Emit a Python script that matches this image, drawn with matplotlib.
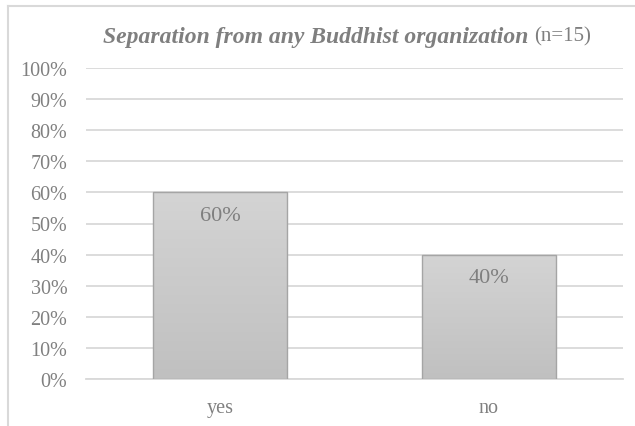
import numpy as np
import matplotlib.pyplot as plt
from matplotlib.lines import Line2D
from matplotlib.colors import LinearSegmentedColormap

categories = ["yes", "no"]
shares = [0.60, 0.40]
labels = ["60%", "40%"]
yticks = [0.0, 0.1, 0.2, 0.3, 0.4, 0.5, 0.6, 0.7, 0.8, 0.9, 1.0]

plt.rcParams['font.family'] = ['Liberation Serif', 'DejaVu Serif']
grey = '#7f7f7f'

fig = plt.figure(figsize=(6.35, 4.27), dpi=100)
ax = fig.add_axes([86/635, 1 - 380/427, 537/635, 311/427])

x = np.arange(len(categories))
bars = ax.bar(x, shares, width=0.5, color='#c8c8c8', edgecolor='#a5a5a5', linewidth=1, zorder=3)

# vertical gradient inside each bar
grad = np.linspace(0, 1, 256).reshape(-1, 1)
cmap = LinearSegmentedColormap.from_list('g', ['#c0c0c0', '#d4d4d4'])
for b in bars:
    bx, by = b.get_x(), b.get_y()
    w, h = b.get_width(), b.get_height()
    im = ax.imshow(grad, extent=[bx, bx + w, by, by + h], origin='lower',
                   cmap=cmap, aspect='auto', zorder=3.5)
    im.set_clip_path(b)
    b.set_facecolor('none')
    b.set_zorder(4)

for xi, v, lab in zip(x, shares, labels):
    ax.text(xi, v - 0.075, lab, ha='center', va='center', fontsize=16, color=grey, zorder=5)

ax.set_xlim(-0.5, 1.5)
ax.set_ylim(0, 1)
ax.set_yticks(yticks)
ax.set_yticklabels([f"{int(round(t*100))}%" for t in yticks])
ax.set_xticks(x)
ax.set_xticklabels(categories)
ax.tick_params(axis='both', length=0, labelsize=14.5, labelcolor='#808080')
ax.tick_params(axis='y', pad=13.5)
ax.tick_params(axis='x', pad=14)
ax.yaxis.grid(True, color='#d9d9d9', linewidth=1.3, zorder=0)
ax.set_axisbelow(True)
for s in ['top', 'right', 'left']:
    ax.spines[s].set_visible(False)
ax.spines['bottom'].set_color('#d9d9d9')
ax.spines['bottom'].set_linewidth(1.3)

# title: bold italic part plus plain part
t1 = fig.text(103/635, 1 - 37/427, "Separation from any Buddhist organization",
              fontsize=17, fontweight='bold', fontstyle='italic', color=grey, va='center', ha='left')
fig.canvas.draw()
bb = t1.get_window_extent()
fig.text((bb.x1 + 6) / 635, 1 - 37/427, "(n=15)", fontsize=15, color=grey, va='center', ha='left')

# outer chart border (left and top visible)
fig.add_artist(Line2D([7.5/635, 7.5/635], [0, 1 - 6.5/427], transform=fig.transFigure, color='#d9d9d9', linewidth=1.5))
fig.add_artist(Line2D([7.5/635, 1], [1 - 6.5/427, 1 - 6.5/427], transform=fig.transFigure, color='#d9d9d9', linewidth=1.5))

fig.savefig('out.png', dpi=100)
